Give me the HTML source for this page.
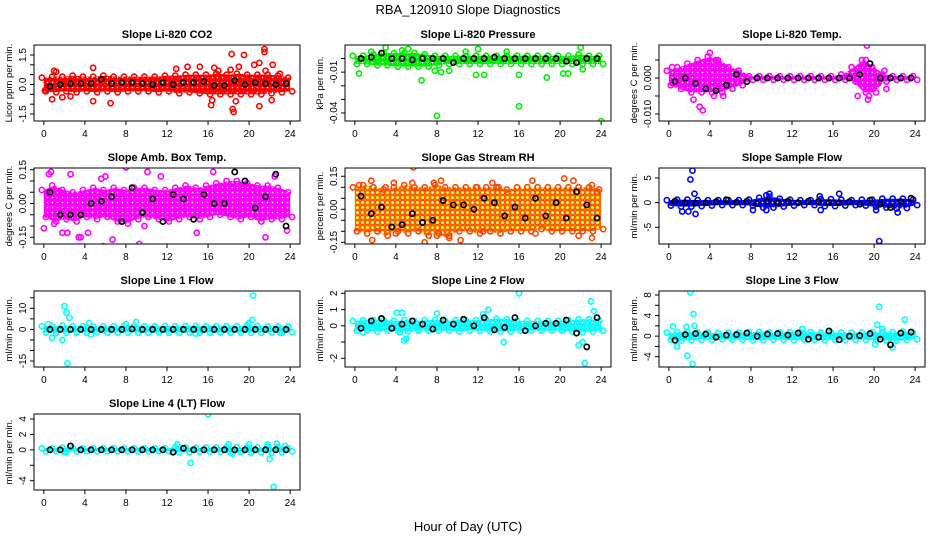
<!DOCTYPE html>
<html><head><meta charset="utf-8">
<style>
html,body{margin:0;padding:0;background:#fff;}
svg{display:block;font-family:"Liberation Sans",Arial,sans-serif;}
</style></head>
<body>
<svg id="chart" width="936" height="540" viewBox="0 0 936 540" xmlns="http://www.w3.org/2000/svg">
<defs id="defs"></defs>
<text x="468" y="14" text-anchor="middle" font-size="13">RBA_120910  Slope Diagnostics</text>
<text x="468" y="531" text-anchor="middle" font-size="13">Hour of Day (UTC)</text>
<g id="panels"></g>
</svg>
<script>
// ---- shared x categories ----
const bandHours = [0,1,2,3,4,5,6,7,8,9,10,11,12,13,14,15,16,17,18,19,20,21,22,23,24];
const meanHours = [0.6,1.6,2.6,3.6,4.6,5.6,6.6,7.6,8.6,9.6,10.6,11.6,12.6,13.6,14.6,15.6,16.6,17.6,18.6,19.6,20.6,21.6,22.6,23.6];
const xTicks = [0,4,8,12,16,20,24];

// ---- P1 CO2 ----
const co2Lo = [-0.35,-0.4,-0.35,-0.4,-0.35,-0.4,-0.35,-0.4,-0.35,-0.35,-0.35,-0.4,-0.35,-0.45,-0.4,-0.45,-0.5,-0.5,-0.5,-0.5,-0.5,-0.5,-0.45,-0.4,-0.35];
const co2Hi = [0.35,0.4,0.4,0.45,0.4,0.4,0.45,0.4,0.4,0.4,0.4,0.4,0.45,0.45,0.5,0.5,0.5,0.55,0.5,0.55,0.5,0.5,0.5,0.45,0.35];
const co2OutX = [0.1,0.8,1,1.2,1.8,2.6,4.8,4.8,6.5,12.9,14,15.2,16.3,16.4,16.6,17,18.3,18.4,18.5,18.7,19,19.5,20.5,21,21,21.5,21.5,21.6,22.3,22.2,23,18.2];
const co2OutY = [-0.3,-0.75,0.7,0.65,-0.65,-0.6,0.85,-0.85,-0.95,0.8,0.9,0.9,-1.05,-0.8,0.85,0.7,1.55,-1.25,-1.4,-0.85,0.9,1.5,1.0,1.1,-1.1,1.8,1.65,0.7,1.0,-0.8,0.55,0.75];
const co2Means = [-0.1,0,0.05,0.05,0.05,0.26,0.05,0.1,0.1,0.05,0,0.1,0,0.1,0.1,0.15,-0.05,-0.05,0.2,0,0.1,0.05,0,0.05];

// ---- P2 Pressure ----
const presLo = [-0.004,-0.004,-0.005,-0.005,-0.006,-0.006,-0.006,-0.006,-0.005,-0.004,-0.004,-0.004,-0.004,-0.004,-0.004,-0.004,-0.004,-0.004,-0.004,-0.004,-0.004,-0.004,-0.004,-0.004,-0.004];
const presHi = [0.002,0.002,0.003,0.004,0.004,0.004,0.004,0.003,0.002,0.002,0.002,0.002,0.002,0.002,0.002,0.002,0.002,0.002,0.002,0.002,0.002,0.002,0.003,0.002,0.002];
const presOutX = [0.4,1.6,3,4.6,5.2,6.5,8,16,24,7.8,8.4,11.8,12.6,16,18.7,20.3,20.8,22.2,22,12,14.8,10.8,9.2];
const presOutY = [-0.011,0.005,0.008,0.006,0.007,-0.016,-0.042,-0.035,-0.046,-0.009,-0.01,-0.012,-0.012,-0.012,-0.014,-0.011,-0.011,-0.008,0.008,0.007,0.005,0.005,-0.009];
const presMeans = [0,0.001,0.004,0,0,-0.001,0,0,0,-0.003,0,0,0,0.001,0,0,0,0,0,0,-0.002,-0.003,0,0];

// ---- P3 Li-820 Temp ----
const tempLo = [-0.002,-0.003,-0.004,-0.004,-0.004,-0.004,-0.003,-0.002,-0.0005,-0.0005,-0.0005,-0.0005,-0.0005,-0.0005,-0.0005,-0.0005,-0.0005,-0.0005,-0.001,-0.004,-0.004,-0.001,-0.0005,-0.0005,-0.0005];
const tempHi = [0.002,0.003,0.004,0.005,0.006,0.005,0.003,0.002,0.0005,0.0005,0.0005,0.0005,0.0005,0.0005,0.0005,0.0005,0.0005,0.001,0.003,0.005,0.003,0.001,0.0005,0.0005,0.0005];
const tempOutX = [0.3,2.4,3,3.3,4.4,3.8,4.6,5.3,4,18.4,19.2,19.3,19.5,19.4,21.2,21,19.9];
const tempOutY = [0.003,-0.006,-0.008,-0.009,-0.005,0.006,0.005,-0.005,0.007,-0.005,0.005,0.009,-0.005,-0.006,-0.003,0.002,-0.003];
const tempMeans = [-0.001,0,-0.0015,-0.003,-0.0035,-0.002,0.001,-0.001,0,0,0,0,0,0,0,0,0,0,0.001,0.004,0,0,0,0];

// ---- P4 Amb Box Temp ----
const ambLo = [-0.06,-0.08,-0.07,-0.08,-0.06,-0.07,-0.06,-0.08,-0.09,-0.07,-0.06,-0.07,-0.08,-0.07,-0.06,-0.07,-0.06,-0.05,-0.06,-0.07,-0.06,-0.08,-0.07,-0.07,-0.06];
const ambHi = [0.06,0.08,0.06,0.05,0.06,0.07,0.06,0.07,0.06,0.07,0.07,0.06,0.06,0.07,0.08,0.07,0.08,0.09,0.1,0.1,0.09,0.08,0.08,0.07,0.05];
const ambOutX = [0,0.5,0.7,1,2.6,2.3,3.4,3.6,5.6,5.8,6.7,8,8.7,9.3,10.1,11.4,12.6,14.6,14.9,16.5,18,18.6,18.9,21.6,21.6,22.5,23.7,6,1.8,4.3,9.8];
const ambOutY = [-0.11,0.13,0.14,-0.09,0.13,-0.13,-0.15,-0.15,0.11,-0.19,-0.16,0.16,-0.2,-0.18,0.14,0.12,-0.22,0.19,-0.13,0.14,0.17,0.21,0.2,0.17,-0.15,0.12,-0.12,0.12,-0.13,-0.13,-0.1];
const ambMeans = [0.05,-0.05,-0.05,-0.05,0,0.01,0.03,-0.08,0.07,-0.04,0.02,-0.08,0.04,0.02,-0.07,0.04,0,0,0.14,0.1,-0.02,0.03,0.13,-0.1];

// ---- P5 Gas Stream RH ----
const rhLo = [-0.1,-0.11,-0.1,-0.12,-0.1,-0.11,-0.1,-0.12,-0.11,-0.13,-0.1,-0.1,-0.11,-0.1,-0.11,-0.1,-0.1,-0.1,-0.09,-0.1,-0.1,-0.1,-0.1,-0.1,-0.09];
const rhHi = [0.1,0.11,0.1,0.09,0.1,0.11,0.1,0.1,0.11,0.1,0.1,0.1,0.1,0.1,0.1,0.09,0.1,0.1,0.1,0.1,0.1,0.1,0.1,0.1,0.09];
const rhOutX = [0.4,1.6,1.7,3,3.8,4,5.7,5.6,6.8,7.7,8.4,8,9.2,10.3,13.4,14,17.6,17.3,20.4,21.3,21.8,23.1,23.1,23.6,12.5,11.9];
const rhOutY = [0.11,0.13,-0.14,0.1,0.12,-0.11,0.19,0.12,-0.15,0.12,0.13,-0.12,-0.12,-0.14,0.12,0.1,-0.11,0.13,0.14,0.13,-0.12,0.11,-0.13,0.08,-0.1,0.1];
const rhMeans = [0.06,-0.02,0.01,-0.08,-0.07,-0.02,-0.06,-0.05,0.04,0.02,0.02,0,0.05,0.03,-0.03,0.01,-0.04,0.05,-0.03,0.03,-0.04,0.08,0.02,-0.04];

// ---- P6 Sample Flow ----
const sfLo = [-0.6,-0.8,-0.8,-0.7,-0.6,-0.5,-0.5,-0.5,-0.6,-1,-1,-0.8,-0.6,-0.5,-0.5,-0.7,-0.7,-0.6,-0.5,-0.6,-0.8,-1,-1.2,-1.1,-0.5];
const sfHi = [0.5,0.6,0.6,0.5,0.5,0.5,0.5,0.5,0.6,1,1.2,0.8,0.6,0.5,0.5,0.7,0.7,0.6,0.5,0.6,0.6,0.8,0.8,0.8,0.6];
const sfOutX = [2.1,2.3,2.5,2.6,1.3,1.9,20.5,20.2,22.3,16.6,9.8,14.7,9.5,8.2,14.8,9.5];
const sfOutY = [4.7,6.5,1.8,-2.3,-1.8,-1.8,-7.8,-1.5,-2,1.8,1.8,1.3,1.5,-1.5,-1.5,-1.5];
const sfMeans = [0.3,0,-0.1,0,0.2,0.6,0.1,0.3,-0.2,0.3,0,0.3,0,0.3,0.3,0,0,0.2,-0.3,0.5,-0.3,-1,0.2,0.9];

// ---- P7 Line 1 Flow ----
const l1Lo = [-1.5,-1.8,-1.6,-1.5,-1.5,-1.4,-1.5,-1.5,-1.4,-1.5,-1.5,-1.4,-1.6,-1.5,-1.5,-1.6,-1.5,-1.5,-1.5,-1.5,-1.6,-1.6,-1.5,-1.5,-1.4];
const l1Hi = [1.5,1.6,1.8,1.5,1.5,1.4,1.5,1.5,1.6,1.6,1.5,1.4,1.6,1.5,1.6,1.6,1.5,1.5,1.5,1.5,1.8,1.6,1.5,1.5,1.4];
const l1OutX = [2,2.2,2.5,1.8,2.3,0.8,0.4,4.4,4.6,9,8,20.4,20.3,20,14.8,23];
const l1OutY = [11,8,5.5,-5,-16,-4,2.5,3,-2.5,3.5,2.5,16,4.5,3,-2,-1.5];
const l1Means = [0,0,0,0,0,0,0,0,0.2,0,0,0,0,0,0,0,0,0,0,0,0,0,0,0];

// ---- P8 Line 2 Flow ----
const l2Lo = [-0.3,-0.3,-0.35,-0.3,-0.3,-0.35,-0.3,-0.3,-0.3,-0.3,-0.35,-0.3,-0.3,-0.35,-0.35,-0.35,-0.3,-0.3,-0.3,-0.3,-0.3,-0.35,-0.4,-0.35,-0.3];
const l2Hi = [0.3,0.35,0.35,0.35,0.3,0.35,0.3,0.35,0.35,0.3,0.35,0.35,0.35,0.4,0.45,0.4,0.3,0.3,0.3,0.3,0.3,0.35,0.4,0.4,0.3];
const l2OutX = [16,22.4,23,22.2,21.8,4.1,4.6,4.4,4.8,5,8,13,14.5,12.5,23.3,0.8];
const l2OutY = [2,-2.3,1.5,-1,-1.2,0.8,0.8,-0.4,-0.9,-0.8,0.75,1,-1,0.7,0.9,-0.4];
const l2Means = [-0.15,0.3,0.45,-0.15,0.1,0.3,0.1,-0.2,0.35,0.1,0.4,0,0.5,-0.25,-0.1,0.5,-0.3,0,0.15,0.15,0.35,-0.45,-1.3,0.5];

// ---- P9 Line 3 Flow ----
const l3Lo = [-0.7,-0.9,-0.8,-0.7,-0.7,-0.6,-0.7,-0.7,-0.8,-0.8,-0.7,-0.7,-0.8,-0.7,-0.7,-0.8,-0.7,-0.7,-0.7,-0.7,-0.8,-0.8,-0.9,-0.8,-0.6];
const l3Hi = [0.7,0.8,0.8,0.7,0.7,0.6,0.7,0.7,0.8,0.8,0.7,0.7,0.8,0.8,0.8,0.7,0.7,0.7,0.7,0.7,0.8,0.8,0.8,0.9,0.6];
const l3OutX = [2.1,2.4,2.5,1.8,2.3,0.8,0.4,1.7,20.5,23,20.3,20.1,21.8,13,20.8];
const l3OutY = [8.5,4.3,2,-3.8,-5.4,-2,1.9,1.8,5.7,3.2,2.2,-1.6,-2.2,1.4,1.4];
const l3Means = [-0.8,0.3,0.5,0.4,-0.2,0.2,0.3,0.6,0,0.4,0.5,0.2,0.6,-0.6,-0.2,1,-0.7,0,0.1,0.5,-0.6,-1.7,0.6,0.8];

// ---- P10 Line 4 (LT) Flow ----
const l4Lo = [-0.2,-0.2,-0.3,-0.2,-0.2,-0.2,-0.2,-0.2,-0.2,-0.2,-0.2,-0.2,-0.2,-0.35,-0.3,-0.25,-0.25,-0.25,-0.3,-0.3,-0.35,-0.3,-0.4,-0.3,-0.2];
const l4Hi = [0.2,0.2,0.3,0.2,0.2,0.2,0.2,0.2,0.2,0.2,0.2,0.2,0.2,0.35,0.3,0.25,0.3,0.3,0.35,0.35,0.35,0.3,0.4,0.35,0.2];
const l4OutX = [16,22.4,14.3,22,13,18,18.4,20,22.7,21.8,2,23.5];
const l4OutY = [4.6,-4.8,-1.7,-1.2,0.7,0.7,-0.5,0.7,0.8,0.7,-0.3,0.5];
const l4Means = [0,0,0.5,0,0,0,0,0,0,0,0,0,-0.3,0.2,0,0,0,0,0,0,0,0,0,0];

const NS = "http://www.w3.org/2000/svg";
const panelsG = document.getElementById('panels');
const defs = document.getElementById('defs');
function mk(tag, attrs, parent){const e=document.createElementNS(NS,tag);for(const k in attrs)e.setAttribute(k,attrs[k]);(parent||panelsG).appendChild(e);return e;}

const W = 266, H = 76;
const panels = [
 {key:'co2',title:'Slope Li-820 CO2',ylab:'Licor ppm per min.',left:34,top:45,v1:1.5,p1:55,v2:-1.5,p2:114,ticks:[-1.5,-1,-0.5,0,0.5,1,1.5],labels:[[1.5,'1.5'],[0,'0.0'],[-1.5,'-1.5']],col:'#ff0000',fill:'#ff0000',lo:co2Lo,hi:co2Hi,ox:co2OutX,oy:co2OutY,m:co2Means},
 {key:'pressure',title:'Slope Li-820 Pressure',ylab:'kPa per min.',left:345,top:45,v1:0,p1:58.5,v2:-0.04,p2:113,ticks:[0,-0.01,-0.02,-0.03,-0.04],labels:[[-0.01,'-0.01'],[-0.04,'-0.04']],col:'#00ee00',fill:'#00ee00',lo:presLo,hi:presHi,ox:presOutX,oy:presOutY,m:presMeans},
 {key:'li820-temp',title:'Slope Li-820 Temp.',ylab:'degrees C per min.',left:659,top:45,v1:0,p1:78,v2:-0.01,p2:114,ticks:[0.005,0,-0.005,-0.01],labels:[[0,'0.000'],[-0.01,'-0.010']],col:'#ff00ff',fill:'#ff00ff',lo:tempLo,hi:tempHi,ox:tempOutX,oy:tempOutY,m:tempMeans},
 {key:'amb-box-temp',title:'Slope Amb. Box Temp.',ylab:'degrees C per min.',left:34,top:168,v1:0.15,p1:169.7,v2:-0.15,p2:237.3,ticks:[0.15,0.1,0.05,0,-0.05,-0.1,-0.15],labels:[[0.15,'0.15'],[0,'0.00'],[-0.15,'-0.15']],col:'#ff00ff',fill:'#ff00ff',lo:ambLo,hi:ambHi,ox:ambOutX,oy:ambOutY,m:ambMeans},
 {key:'gas-stream-rh',title:'Slope Gas Stream RH',ylab:'percent per min.',left:345,top:168,v1:0.15,p1:176.3,v2:-0.15,p2:242.3,ticks:[0.15,0.1,0.05,0,-0.05,-0.1,-0.15],labels:[[0.15,'0.15'],[0,'0.00'],[-0.15,'-0.15']],col:'#ff4400',fill:'#ffdd00',lo:rhLo,hi:rhHi,ox:rhOutX,oy:rhOutY,m:rhMeans},
 {key:'sample-flow',title:'Slope Sample Flow',ylab:'ml/min per min.',left:659,top:168,v1:5,p1:178,v2:-5,p2:227.3,ticks:[5,0,-5],labels:[[5,'5'],[0,'0'],[-5,'-5']],col:'#0000ff',fill:'#0000ff',lo:sfLo,hi:sfHi,ox:sfOutX,oy:sfOutY,m:sfMeans},
 {key:'line1-flow',title:'Slope Line 1 Flow',ylab:'ml/min per min.',left:34,top:291,v1:10,p1:308.3,v2:-15,p2:361,ticks:[15,10,5,0,-5,-10,-15],labels:[[10,'10'],[0,'0'],[-15,'-15']],col:'#00ffff',fill:'#00ffff',lo:l1Lo,hi:l1Hi,ox:l1OutX,oy:l1OutY,m:l1Means},
 {key:'line2-flow',title:'Slope Line 2 Flow',ylab:'ml/min per min.',left:345,top:291,v1:2,p1:293.3,v2:-2,p2:358.3,ticks:[2,1,0,-1,-2],labels:[[2,'2'],[1,'1'],[0,'0'],[-2,'-2']],col:'#00ffff',fill:'#00ffff',lo:l2Lo,hi:l2Hi,ox:l2OutX,oy:l2OutY,m:l2Means},
 {key:'line3-flow',title:'Slope Line 3 Flow',ylab:'ml/min per min.',left:659,top:291,v1:8,p1:295,v2:-4,p2:356.7,ticks:[8,6,4,2,0,-2,-4],labels:[[8,'8'],[4,'4'],[0,'0'],[-4,'-4']],col:'#00ffff',fill:'#00ffff',lo:l3Lo,hi:l3Hi,ox:l3OutX,oy:l3OutY,m:l3Means},
 {key:'line4-flow',title:'Slope Line 4 (LT) Flow',ylab:'ml/min per min.',left:34,top:414,v1:4,p1:419,v2:-4,p2:480.7,ticks:[4,2,0,-2,-4],labels:[[4,'4'],[2,'2'],[0,'0'],[-4,'-4']],col:'#00ffff',fill:'#00ffff',lo:l4Lo,hi:l4Hi,ox:l4OutX,oy:l4OutY,m:l4Means}
];

panels.forEach((p,pi)=>{
  // textured pattern of overlapping open circles
  const pat = mk('pattern',{id:'pat'+pi,width:5,height:5,patternUnits:'userSpaceOnUse'},defs);
  mk('rect',{x:0,y:0,width:5,height:5,fill:p.fill},pat);
  mk('circle',{cx:2.5,cy:2.5,r:0.8,fill:'#fff'},pat);
  mk('circle',{cx:2.5,cy:2.5,r:2.4,fill:'none',stroke:p.col,'stroke-width':1.2},pat);

  const g = mk('g',{});
  
  
  const xs = h => p.left + 9.85 + h * (W/25.92);
  const ys = v => p.p1 + (v - p.v1) * (p.p2 - p.p1) / (p.v2 - p.v1);
  const cid = 'clip' + pi;
  const cp = mk('clipPath',{id:cid},g);
  mk('rect',{x:p.left,y:p.top,width:W,height:H},cp);
  const plot = mk('g',{'clip-path':'url(#'+cid+')'},g);
  
  
  // dense cloud band
  let pts = [];
  bandHours.forEach((h,i)=>pts.push(xs(h)+','+ys(p.hi[i])));
  for(let i=bandHours.length-1;i>=0;i--) pts.push(xs(bandHours[i])+','+ys(p.lo[i]));
  const band = mk('polygon',{points:pts.join(' '),fill:'url(#pat'+pi+')',stroke:'none'},plot);
  
  
  // ragged edge points of the cloud
  bandHours.forEach((h,i)=>{
    [p.hi[i],p.lo[i]].forEach((v,k)=>{
      const c = mk('circle',{cx:xs(h)+(k?2:-2),cy:ys(v),r:2.6,fill:'none',stroke:p.col,'stroke-width':1.6},plot);
      
      
    });
  });
  // outlier points
  p.ox.forEach((x,i)=>{
    const c = mk('circle',{cx:xs(x),cy:ys(p.oy[i]),r:2.6,fill:'none',stroke:p.col,'stroke-width':1.6},plot);
    
    
  });
  // hourly mean points (black)
  meanHours.forEach((h,i)=>{
    const c = mk('circle',{cx:xs(h),cy:ys(p.m[i]),r:2.6,fill:'none',stroke:'#000','stroke-width':1.7},plot);
    
    
  });
  // box
  const box = mk('rect',{x:p.left,y:p.top,width:W,height:H,fill:'none',stroke:'#000','stroke-width':1},g);
  
  
  // x axis
  const bot = p.top + H;
  mk('line',{x1:xs(0),x2:xs(24),y1:bot,y2:bot,stroke:'#000'},g);
  xTicks.forEach(t=>{
    mk('line',{x1:xs(t),x2:xs(t),y1:bot,y2:bot+4,stroke:'#000'},g);
    const tl = mk('text',{x:xs(t),y:bot+16,'text-anchor':'middle','font-size':10},g);
    tl.textContent = t;
    
    
  });
  // y axis
  const ty = p.ticks.map(ys);
  mk('line',{x1:p.left,x2:p.left,y1:Math.min(...ty),y2:Math.max(...ty),stroke:'#000'},g);
  p.ticks.forEach(t=>mk('line',{x1:p.left-4,x2:p.left,y1:ys(t),y2:ys(t),stroke:'#000'},g));
  p.labels.forEach(l=>{
    const x = p.left - 8, y = ys(l[0]);
    const tl = mk('text',{x:x,y:y,'text-anchor':'middle','font-size':10,transform:'rotate(-90 '+x+' '+y+')'},g);
    tl.textContent = l[1];
    
    
  });
  // y title
  const yx = p.left - 22, yy = p.top + H/2;
  const yt = mk('text',{x:yx,y:yy,'text-anchor':'middle','font-size':9.5,transform:'rotate(-90 '+yx+' '+yy+')'},g);
  yt.textContent = p.ylab;
  
  
  // panel title
  const tt = mk('text',{x:p.left+W/2,y:p.top-7,'text-anchor':'middle','font-size':11,'font-weight':'bold'},g);
  tt.textContent = p.title;
  
  
});
</script>
</body></html>
